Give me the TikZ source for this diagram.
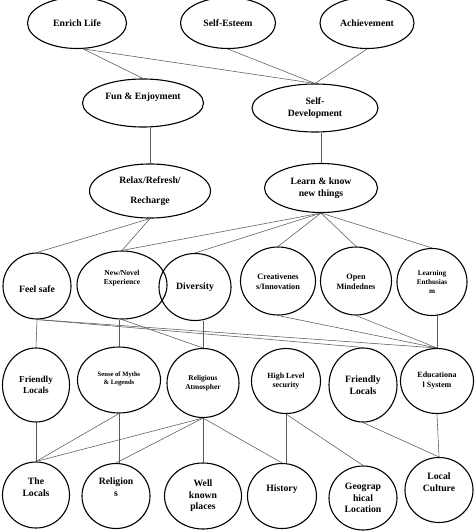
\documentclass[tikz,border=0pt]{standalone}
\usepackage{fontspec}
\setmainfont{Liberation Serif}
\usetikzlibrary{shapes.geometric}
\tikzset{
  ell/.style={draw=black, ellipse, line width=1.1pt, inner sep=0pt, align=center,
    font=\fontsize{9.7}{11.5}\selectfont\bfseries},
  sm/.style 2 args={font=\fontsize{#1}{#2}\selectfont\bfseries},
  con/.style={draw=black!65, line width=0.55pt},
}
\begin{document}
\begin{tikzpicture}[x=1pt,y=-1pt]
\useasboundingbox[fill=white] (0,0) rectangle (474,532);
% row 1
\node[ell, minimum width=99pt, minimum height=51pt] (enrich) at (77,23) {Enrich Life};
\node[ell, minimum width=95pt, minimum height=51pt] (esteem) at (228,23) {Self-Esteem};
\node[ell, minimum width=94pt, minimum height=51pt] (achieve) at (367,23) {Achievement};
% row 2
\node[ell, minimum width=121pt, minimum height=48pt] (fun) at (143,103) {Fun \& Enjoyment\\[2pt]\mbox{}};
\node[ell, minimum width=126pt, minimum height=48pt] (selfdev) at (315,108) {Self-\\Development};
% row 3
\node[ell, minimum width=121pt, minimum height=54pt] (relax) at (150,191) {Relax/Refresh/\\[9pt]Recharge};
\node[ell, minimum width=113pt, minimum height=49pt] (learn) at (321,188) {Learn \& know\\new things};
% row 4
\node[ell, minimum width=68pt, minimum height=66pt] (safe) at (37,286) {\smash{\raisebox{-6pt}{Feel safe}}};
\node[ell, sm={7.6}{9.2}, minimum width=90pt, minimum height=68pt] (novel) at (122,285) {New/Novel\\Experience\\[6pt]\mbox{}};
\node[ell, minimum width=72pt, minimum height=67pt] (divers) at (195,287) {Diversity};
\node[ell, sm={8.2}{10}, minimum width=75pt, minimum height=68pt] (creat) at (278,281) {\mbox{}\\[-2pt]Creativenes\\s/Innovation};
\node[ell, sm={8.2}{10}, minimum width=71pt, minimum height=68pt] (open) at (356,281) {\mbox{}\\[-2pt]Open\\Mindednes};
\node[ell, sm={7.2}{9}, minimum width=70pt, minimum height=67pt] (enth) at (432,282) {Learning\\Enthusias\\m};
% row 5
\node[ell, sm={9.2}{11.5}, minimum width=67pt, minimum height=74pt] (fl1) at (36,385) {Friendly\\Locals};
\node[ell, sm={6.6}{8.5}, minimum width=83pt, minimum height=66pt] (myths) at (119,380) {\mbox{}\\[-6pt]Sense of Myths\\\& Legends};
\node[ell, sm={7.4}{9.5}, minimum width=72pt, minimum height=69pt] (relatm) at (203,383) {Religious\\Atmospher};
\node[ell, sm={7.9}{9.5}, minimum width=69pt, minimum height=65pt] (secur) at (286,381) {High Level\\security};
\node[ell, sm={9.7}{11.5}, minimum width=68pt, minimum height=74pt] (fl2) at (363,385) {Friendly\\Locals};
\node[ell, sm={8}{10}, minimum width=73pt, minimum height=65pt] (edu) at (437,381) {Educationa\\l System};
% row 6
\node[ell, minimum width=67pt, minimum height=66pt] (locals) at (36,495) {The\\Locals\\[4pt]\mbox{}};
\node[ell, minimum width=68pt, minimum height=65pt] (relig) at (116,496) {Religion\\s\\[6pt]\mbox{}};
\node[ell, minimum width=77pt, minimum height=66pt] (well) at (203,496) {Well\\known\\places};
\node[ell, minimum width=69pt, minimum height=65pt] (hist) at (282,496) {History\\[5pt]\mbox{}};
\node[ell, minimum width=68pt, minimum height=64pt] (geo) at (363,498) {Geograp\\hical\\Location};
\node[ell, minimum width=68pt, minimum height=65pt] (culture) at (439,490) {Local\\Culture\\[4pt]\mbox{}};
% connectors
\draw[con] (enrich.-77) -- (fun.north);
\draw[con] (enrich.-77) -- (selfdev.north);
\draw[con] (esteem.south) -- (selfdev.north);
\draw[con] (achieve.south) -- (selfdev.north);
\draw[con] (relax.north) -- (relax.north |- fun.south);
\draw[con] (learn.north) -- (learn.north |- selfdev.south);
\draw[con] (relax.south) -- (safe.north);
\draw[con] (relax.south) -- (novel.north);
\draw[con] (learn.south) -- (novel.north);
\draw[con] (learn.south) -- (divers.north);
\draw[con] (learn.south) -- (creat.north);
\draw[con] (learn.south) -- (open.north);
\draw[con] (learn.south) -- (enth.north);
\draw[con] (safe.south) -- (fl1.north);
\draw[con] (safe.south) -- (fl2.north);
\draw[con] (safe.south) -- (edu.north);
\draw[con] (myths.north) -- (myths.north |- novel.south);
\draw[con] (novel.south) -- (relatm.north);
\draw[con] (relatm.north) -- (relatm.north |- divers.south);
\draw[con] (creat.south) -- (edu.north);
\draw[con] (open.south) -- (edu.north);
\draw[con] (edu.north) -- (edu.north |- enth.south);
\draw[con] (fl1.south) -- (locals.north);
\draw[con] (myths.south) -- (locals.north);
\draw[con] (myths.south) -- (myths.south |- relig.north);
\draw[con] (relatm.south) -- (locals.north);
\draw[con] (relatm.south) -- (relig.north);
\draw[con] (relatm.south) -- (well.north);
\draw[con] (relatm.south) -- (hist.north);
\draw[con] (secur.south) -- (secur.south |- hist.north);
\draw[con] (secur.south) -- (geo.north);
\draw[con] (fl2.south) -- (culture.north);
\draw[con] (edu.south) -- (culture.north);
\end{tikzpicture}
\end{document}
